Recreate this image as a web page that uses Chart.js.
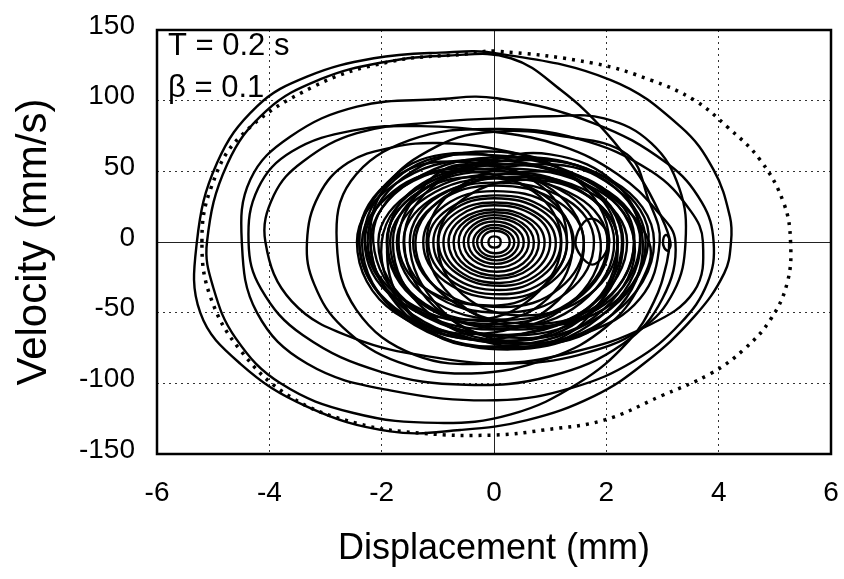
<!DOCTYPE html>
<html>
<head>
<meta charset="utf-8">
<script src="https://cdn.jsdelivr.net/npm/chart.js@4.4.0/dist/chart.umd.min.js"></script>
<style>
html, body { margin: 0; padding: 0; background: #fff; }
#wrap { width: 844px; height: 579px; }
</style>
</head>
<body>
<div id="wrap"><canvas id="phase" width="844" height="579"></canvas></div>
<script>
var xTicks = [-6, -4, -2, 0, 2, 4, 6];
var yTicks = [-150, -100, -50, 0, 50, 100, 150];
var xTitle = 'Displacement (mm)';
var yTitle = 'Velocity (mm/s)';
var notes = ['T = 0.2 s', '\u03b2 = 0.1'];

// elastic system (dotted), [displacement, velocity]
var elasticLoop = [
    [-5.2, 0], [-5.05, 37], [-4.52, 74.5], [-3.21, 110], [-1.85, 127.6], [-0.5, 133], [0.05, 135],
    [1.78, 126.4], [2.79, 114.6], [3.56, 100.5], [4.15, 81.6], [4.74, 58], [5.16, 27.4], [5.28, 0],
    [5.22, -29], [4.92, -55], [4.45, -76], [3.86, -93], [2.97, -109], [1.96, -126], [0.89, -133],
    [0.0, -136.6], [-1.25, -135.4], [-2.44, -128.3], [-3.63, -109.4], [-4.52, -76.4], [-5.05, -38.7]
];

// inelastic system: one closed cycle per row, left turning point first
var outerCycles = [
    [[-5.29, 0], [-4.93, 56], [-4.22, 96], [-3.33, 117], [-2.14, 130], [-0.96, 134], [0.05, 133.5], [2.08, 114.6],
     [3.32, 81.6], [3.91, 51], [4.2, 18], [4.22, 0], [4.1, -22], [3.56, -53], [2.67, -86], [1.78, -109],
     [0.59, -126], [-0.6, -133], [-1.85, -134], [-3.33, -116.5], [-4.52, -86], [-5.23, -50]],
    [[-5.11, 0], [-4.75, 55], [-4.05, 93], [-3.1, 115], [-2.0, 127], [-0.8, 132], [0.3, 130], [1.19, 107.5],
     [1.96, 79], [2.6, 46], [3.0, 16], [3.14, 0], [3.1, -6], [3.03, -4], [3.01, 1], [3.06, 5], [3.12, 2],
     [3.08, -14], [2.85, -42], [2.4, -70], [1.5, -100], [0.3, -122], [-1.0, -128], [-2.5, -121], [-3.8, -100],
     [-4.6, -68], [-5.0, -32]],
    [[-4.49, 0], [-4.34, 44], [-3.63, 74.5], [-2.44, 95.8], [-1.0, 101], [0.05, 101.7], [1.78, 84], [3.08, 55.7],
     [3.7, 28], [3.91, 0], [3.8, -29], [3.32, -57.5], [2.5, -84], [1.4, -103], [0.05, -112], [-1.85, -105],
     [-3.33, -86], [-4.22, -50]]
];

var middleCycles = [
    [[-4.37, 0], [-4.2, 38], [-3.6, 64], [-2.5, 79], [-1.3, 82], [0.0, 78], [1.2, 68], [2.2, 48], [2.9, 22],
     [3.23, 0], [3.0, -40], [2.3, -72], [1.0, -95], [-0.5, -101], [-2.0, -92], [-3.4, -66], [-4.15, -33]],
    [[-4.07, 0], [-3.92, 33], [-3.4, 57], [-2.44, 77], [-1.0, 85], [0.05, 87.5], [1.0, 89], [1.96, 87.5],
     [2.8, 70], [3.3, 38], [3.41, 0], [3.2, -35], [2.6, -62], [1.5, -80], [0.3, -86], [-1.0, -82],
     [-2.5, -68], [-3.6, -42]],
    [[-2.8, 0], [-2.55, 43], [-1.5, 72], [0.0, 80], [1.5, 73], [2.8, 50], [3.5, 22], [3.72, 0], [3.56, -35],
     [2.7, -60], [1.4, -78], [0.0, -86], [-1.4, -80], [-2.45, -48]],
    [[-3.33, 0], [-3.12, 33], [-2.6, 56], [-1.8, 67], [-1.0, 70], [0.0, 66], [1.0, 55], [2.0, 35], [2.76, 0],
     [2.6, -30], [2.0, -60], [1.0, -82], [-0.4, -93], [-1.7, -85], [-2.7, -60], [-3.2, -30]],
    [[-2.2, 0], [-1.95, 38], [-1.0, 68], [0.0, 78], [1.2, 75], [2.37, 62], [2.75, 30], [2.95, 0], [2.6, -40],
     [1.6, -65], [0.3, -76], [-1.0, -66], [-1.85, -38]]
];

var coreCycles = [
    [[-2.4, 0], [-1.9, 42], [-0.9, 62], [0.6, 55], [1.8, 35], [2.2, 0], [1.9, -42], [0.9, -72], [-0.6, -66], [-1.9, -42]],
    [[-1.9, 0], [-1.5, 35], [-0.3, 55], [1.0, 62], [2.2, 40], [2.6, 0], [2.1, -40], [0.8, -62], [-0.6, -68], [-1.6, -45]],
    [[-1.2, 0], [-0.63, 39], [0.9, 55], [2.13, 39], [2.7, 0], [2.13, -43], [0.6, -60], [-0.63, -43]],
    [[-2.44, 0], [-1.76, 41], [-0.3, 58], [1.6, 41], [2.28, 0], [1.6, -50], [0.2, -70], [-1.76, -50]],
    [[-2.3, 0], [-1.79, 36], [-0.7, 50], [0.69, 36], [1.2, 0], [0.69, -39], [-0.4, -55], [-1.79, -39]],
    [[-2.35, 0], [-1.63, 39], [0.0, 55], [1.89, 39], [2.61, 0], [1.89, -53], [0.3, -75], [-1.63, -53]],
    [[-1.5, 0], [-0.96, 33], [0.5, 46], [1.66, 33], [2.2, 0], [1.66, -47], [0.0, -66], [-0.96, -47]],
    [[-2.2, 0], [-1.47, 43], [0.2, 60], [2.12, 43], [2.85, 0], [2.12, -51], [0.5, -72], [-1.47, -51]],
    [[-1.7, 0], [-1.26, 39], [-0.5, 55], [0.86, 39], [1.3, 0], [0.86, -32], [0.0, -45], [-1.26, -32]],
    [[-2.06, 0], [-1.4, 37], [0.1, 52], [1.83, 37], [2.49, 0], [1.83, -47], [0.35, -66], [-1.4, -47]],
    [[-2.3, 0], [-1.77, 44], [-0.5, 62], [1.62, 44], [2.5, 0], [1.94, -48], [0.6, -68], [-1.45, -48]],
    [[-2.0, 0], [-1.21, 41], [0.7, 58], [2.15, 41], [2.75, 0], [1.89, -52.5], [-0.2, -74], [-1.47, -52.5]],
    [[-1.8, 0], [-1.18, 39], [0.3, 55], [1.71, 39], [2.3, 0], [1.71, -49.7], [0.3, -70], [-1.18, -49.7]],
    [[-2.15, 0], [-1.7, 37], [-0.6, 52], [1.17, 37], [1.9, 0], [1.34, -44], [0.0, -62], [-1.52, -44]],
    [[-1.4, 0], [-0.73, 35.5], [0.9, 50], [2.03, 35.5], [2.5, 0], [1.97, -41], [0.7, -58], [-0.78, -41]],
    [[-2.4, 0], [-1.93, 40.5], [-0.8, 57], [0.9, 40.5], [1.6, 0], [1.01, -46], [-0.4, -65], [-1.81, -46]],
    [[-1.0, 0], [-0.53, 31], [0.6, 44], [1.73, 31], [2.2, 0], [1.7, -37], [0.5, -52], [-0.56, -37]],
    [[-1.9, 0], [-1.43, 32.7], [-0.3, 46], [0.9, 32.7], [1.4, 0], [0.96, -39.8], [-0.1, -56], [-1.37, -39.8]],
    [[-2.25, 0], [-1.62, 45.4], [-0.1, 64], [1.42, 45.4], [2.05, 0], [1.45, -41.2], [0.0, -58], [-1.59, -41.2]],
    [[-1.6, 0], [-0.98, 42.6], [0.5, 60], [2.02, 42.6], [2.65, 0], [2.11, -51], [0.8, -72], [-0.9, -51]]
];

var ringCycles = [
    [[-1.91, 0], [-1.32, 36], [0.0, 50], [1.55, 36], [2.14, 0], [1.55, -43], [0.25, -60], [-1.32, -43]],
    [[-1.85, 0], [-1.24, 34], [0.15, 48], [1.76, 34], [2.37, 0], [1.76, -44], [0.4, -62], [-1.24, -44]],
    [[-1.73, 0], [-1.19, 32], [0.05, 45], [1.48, 32], [2.02, 0], [1.48, -39], [0.25, -55], [-1.19, -39]],
    [[-1.61, 0], [-1.12, 30], [0.0, 42], [1.29, 30], [1.78, 0], [1.29, -36], [0.15, -50], [-1.12, -36]],
    [[-1.44, 0], [-1.0, 28], [0.0, 40], [1.16, 28], [1.6, 0], [1.16, -33], [0.15, -46], [-1.0, -33]],
    [[-1.26, 0], [-0.87, 26], [0.0, 36], [1.03, 26], [1.42, 0], [1.03, -28], [0.15, -40], [-0.87, -28]],
    [[-1.17, 0], [-0.81, 23.4], [0.05, 33], [0.93, 23.4], [1.3, 0], [0.95, -26.3], [0.1, -37], [-0.8, -26.3]],
    [[-1.08, 0], [-0.75, 22], [0.0, 31], [0.86, 22], [1.19, 0], [0.86, -24], [0.1, -34], [-0.75, -24]],
    [[-0.99, 0], [-0.7, 19.9], [0.0, 28], [0.78, 19.9], [1.1, 0], [0.81, -22], [0.1, -31], [-0.67, -22]],
    [[-0.9, 0], [-0.62, 18.5], [0.0, 26], [0.72, 18.5], [1.0, 0], [0.72, -20.6], [0.1, -29], [-0.62, -20.6]],
    [[-0.81, 0], [-0.57, 16.3], [0.0, 23], [0.64, 16.3], [0.9, 0], [0.65, -18.5], [0.05, -26], [-0.56, -18.5]],
    [[-0.72, 0], [-0.5, 15], [0.0, 21], [0.58, 15], [0.8, 0], [0.58, -17], [0.08, -24], [-0.5, -17]],
    [[-0.63, 0], [-0.45, 13.5], [0.0, 19], [0.5, 13.5], [0.71, 0], [0.52, -15], [0.05, -21], [-0.44, -15]],
    [[-0.54, 0], [-0.37, 12], [0.0, 17], [0.45, 12], [0.62, 0], [0.45, -12.8], [0.05, -18], [-0.37, -12.8]],
    [[-0.46, 0], [-0.33, 10.3], [0.0, 14.5], [0.37, 10.3], [0.53, 0], [0.38, -11], [0.03, -15.5], [-0.32, -11]],
    [[-0.37, 0], [-0.25, 8.5], [0.0, 12], [0.32, 8.5], [0.44, 0], [0.32, -9.2], [0.05, -13], [-0.25, -9.2]],
    [[-0.3, 0], [-0.21, 7.1], [0.0, 10], [0.25, 7.1], [0.36, 0], [0.26, -7.5], [0.02, -10.5], [-0.21, -7.5]],
    [[-0.22, 0], [-0.15, 5.7], [0.0, 8], [0.21, 5.7], [0.28, 0], [0.21, -5.7], [0.03, -8], [-0.15, -5.7]],
    [[-0.1, 0], [-0.07, 3], [0.0, 4], [0.09, 3], [0.12, 0], [0.09, -3], [0.01, -4], [-0.07, -3]]
];

// small side loop right of the core
var lensLoop = [[1.45, 0], [1.6, 14], [1.8, 16], [2.0, 8], [2.05, 0], [1.95, -10], [1.75, -16], [1.55, -10]];

var fontFamily = "'Liberation Sans', Arial, Helvetica, sans-serif";

// closed cycle: wrap one point on each side so the curve is smooth where it closes,
// the two wrap segments are not drawn
function closedSet(cycle, width, dash) {
    var n = cycle.length;
    var pts = [cycle[n - 1]].concat(cycle, [cycle[0], cycle[1]]).map(function(p) {
        return { x: p[0], y: p[1] };
    });
    var last = pts.length - 1;
    return {
        data: pts,
        showLine: true,
        borderColor: '#000',
        borderWidth: width,
        borderDash: dash || [],
        pointRadius: 0,
        tension: 0.4,
        fill: false,
        segment: {
            borderColor: function(s) {
                return (s.p0DataIndex === 0 || s.p1DataIndex === last) ? 'rgba(0,0,0,0)' : '#000';
            }
        }
    };
}

var datasets = [];
[outerCycles, middleCycles, coreCycles, ringCycles].forEach(function(group) {
    group.forEach(function(cycle) { datasets.push(closedSet(cycle, 2.4)); });
});
datasets.push(closedSet(lensLoop, 2.4));
datasets.push(closedSet(elasticLoop, 3.5, [3, 6]));

var framePlugin = {
    id: 'frame',
    afterDatasetsDraw: function(chart) {
        var c = chart.ctx, a = chart.chartArea;
        c.save();
        c.strokeStyle = '#000';
        c.lineWidth = 2.5;
        c.strokeRect(a.left, a.top, a.right - a.left, a.bottom - a.top);
        c.fillStyle = '#000';
        c.font = '31px ' + fontFamily;
        c.textBaseline = 'alphabetic';
        c.textAlign = 'left';
        c.fillText(notes[0], a.left + 11, a.top + 25);
        c.fillText(notes[1], a.left + 11, a.top + 67);
        c.restore();
    }
};

function gridDash(ctx) {
    return (ctx.tick && ctx.tick.value === 0) ? [] : [2, 4];
}
function gridColor(ctx) {
    return (ctx.tick && ctx.tick.value === 0) ? '#222' : '#333';
}

// the gap between frame and labels is made with invisible tick marks,
// tick padding would also push the frame inwards
var gridOpts = {
    color: gridColor, lineWidth: 1, drawTicks: true, tickLength: 22,
    tickColor: 'rgba(0,0,0,0)', borderDash: gridDash
};

var ctx = document.getElementById('phase').getContext('2d');
var phaseChart = new Chart(ctx, {
    type: 'scatter',
    data: { datasets: datasets },
    options: {
        responsive: false,
        animation: false,
        devicePixelRatio: 1,
        layout: { padding: { top: 30, right: 13, left: 0, bottom: 0 } },
        plugins: { legend: { display: false }, tooltip: { enabled: false } },
        scales: {
            x: {
                type: 'linear', min: -6, max: 6,
                afterBuildTicks: function(s) { s.ticks = xTicks.map(function(v) { return { value: v }; }); },
                afterFit: function(s) { s.height = 125; },
                ticks: { color: '#000', font: { family: fontFamily, size: 28 }, padding: 0, maxRotation: 0 },
                grid: gridOpts,
                border: { display: false, dash: gridDash },
                title: { display: true, text: xTitle, color: '#000', font: { family: fontFamily, size: 36 }, padding: { top: 0, bottom: 8 } }
            },
            y: {
                type: 'linear', min: -150, max: 150,
                afterBuildTicks: function(s) { s.ticks = yTicks.map(function(v) { return { value: v }; }); },
                afterFit: function(s) { s.width = 157; },
                ticks: { color: '#000', font: { family: fontFamily, size: 28 }, padding: 0, labelOffset: -4 },
                grid: gridOpts,
                border: { display: false, dash: gridDash },
                title: { display: true, text: yTitle, color: '#000', font: { family: fontFamily, size: 42 }, padding: { top: 9, bottom: 0 } }
            }
        }
    },
    plugins: [framePlugin]
});
</script>
</body>
</html>
